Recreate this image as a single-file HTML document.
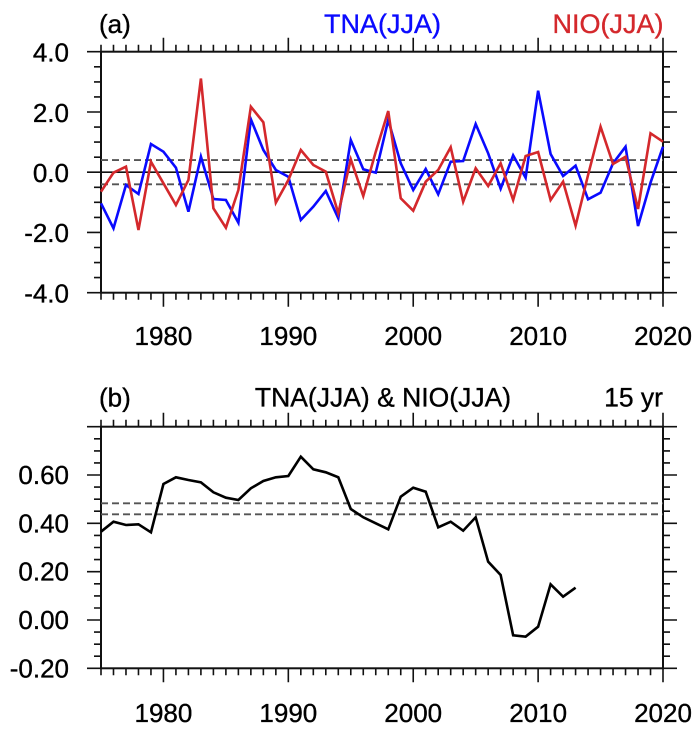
<!DOCTYPE html>
<html>
<head>
<meta charset="utf-8">
<style>
html,body{margin:0;padding:0;background:#fff;}
svg{display:block;}
text{font-family:"Liberation Sans",Arial,sans-serif;fill:#000;stroke:#000;stroke-width:0.35;}
</style>
</head>
<body>
<svg width="700" height="730" viewBox="0 0 700 730" xmlns="http://www.w3.org/2000/svg">
<defs>
<path id="xminor" d="M101 0v7M113.49 0v7M125.98 0v7M138.47 0v7M150.96 0v7M175.93 0v7M188.42 0v7M200.91 0v7M213.4 0v7M225.89 0v7M238.38 0v7M250.87 0v7M263.36 0v7M275.85 0v7M300.82 0v7M313.31 0v7M325.8 0v7M338.29 0v7M350.78 0v7M363.27 0v7M375.76 0v7M388.25 0v7M400.74 0v7M425.71 0v7M438.2 0v7M450.69 0v7M463.18 0v7M475.67 0v7M488.16 0v7M500.65 0v7M513.14 0v7M525.63 0v7M550.6 0v7M563.09 0v7M575.58 0v7M588.07 0v7M600.56 0v7M613.05 0v7M625.54 0v7M638.03 0v7M650.52 0v7"/>
<path id="xmajor" d="M163.44 0v14M288.33 0v14M413.23 0v14M538.12 0v14M663 0v14"/>
</defs>

<!-- ================= Panel (a) ================= -->
<g stroke="#111" stroke-width="1.6" fill="none">
  <use href="#xminor" transform="translate(0,292.7)"/>
  <use href="#xmajor" transform="translate(0,292.7)"/>
  <use href="#xminor" transform="translate(0,51.7) scale(1,-1)"/>
  <use href="#xmajor" transform="translate(0,51.7) scale(1,-1)"/>
  <path d="M101 51.7h-14M101 112h-14M101 172.2h-14M101 232.4h-14M101 292.7h-14
           M101 66.8h-7M101 81.9h-7M101 96.9h-7M101 127.1h-7M101 142.1h-7M101 157.2h-7
           M101 187.3h-7M101 202.3h-7M101 217.4h-7M101 247.5h-7M101 262.6h-7M101 277.6h-7"/>
  <path d="M663 51.7h14M663 112h14M663 172.2h14M663 232.4h14M663 292.7h14
           M663 66.8h7M663 81.9h7M663 96.9h7M663 127.1h7M663 142.1h7M663 157.2h7
           M663 187.3h7M663 202.3h7M663 217.4h7M663 247.5h7M663 262.6h7M663 277.6h7"/>
</g>
<rect x="101" y="51.7" width="562" height="241" fill="none" stroke="#111" stroke-width="2"/>
<line x1="101" y1="172.2" x2="663" y2="172.2" stroke="#111" stroke-width="1.7"/>
<g stroke="#555" stroke-width="1.9" stroke-dasharray="7 4">
  <line x1="101" y1="160.1" x2="663" y2="160.1"/>
  <line x1="101" y1="184.3" x2="663" y2="184.3"/>
</g>

<polyline fill="none" stroke="#0a0aff" stroke-width="2.6" stroke-linejoin="miter" points="
101,203.3 113.49,228.3 125.98,185 138.47,194 150.96,144 163.44,151.7 175.93,167.7 188.42,211.7 200.91,156.7 213.4,199
225.89,200 238.38,222.7 250.87,119.3 263.36,150 275.85,170 288.33,176.7 300.82,220 313.31,206.7 325.8,191 338.29,218.3
350.78,140 363.27,169.3 375.76,172.7 388.25,120 400.74,163.3 413.23,190 425.71,169 438.2,194.3 450.69,161.7 463.18,161
475.67,124 488.16,153.3 500.65,188.7 513.14,155.3 525.63,177.7 538.12,90.7 550.6,154 563.09,176 575.58,165.7 588.07,199.3
600.56,192.7 613.05,163.3 625.54,146.7 638.03,226 650.52,182.7 663,146.7"/>
<polyline fill="none" stroke="#d4282c" stroke-width="2.6" stroke-linejoin="miter" points="
101,191.7 113.49,172.7 125.98,166.7 138.47,230 150.96,161.7 163.44,183.3 175.93,205 188.42,180 200.91,78.5 213.4,208.3
225.89,227.7 238.38,190 250.87,106.7 263.36,122.3 275.85,202.7 288.33,180 300.82,150 313.31,165 325.8,171.7 338.29,213.3
350.78,159.3 363.27,196 375.76,151.7 388.25,111 400.74,198.3 413.23,210.7 425.71,181.7 438.2,170 450.69,147.3 463.18,201.7
475.67,168.3 488.16,186 500.65,163.3 513.14,200 525.63,156 538.12,152 550.6,200 563.09,181.7 575.58,225.7 588.07,175
600.56,126.7 613.05,164 625.54,156.7 638.03,209 650.52,133.3 663,141.7"/>

<g font-size="26" text-anchor="end">
  <text x="69" y="61.5">4.0</text>
  <text x="69" y="121.8">2.0</text>
  <text x="69" y="182">0.0</text>
  <text x="69" y="242.2">-2.0</text>
  <text x="69" y="302.5">-4.0</text>
</g>
<g font-size="26" text-anchor="middle">
  <text x="163.44" y="345">1980</text>
  <text x="288.33" y="345">1990</text>
  <text x="413.23" y="345">2000</text>
  <text x="538.12" y="345">2010</text>
  <text x="663" y="345">2020</text>
</g>
<text x="99" y="33" font-size="26">(a)</text>
<text x="382.5" y="33" font-size="27" text-anchor="middle" style="fill:#0a0aff;stroke:#0a0aff">TNA(JJA)</text>
<text x="663.5" y="33" font-size="27" text-anchor="end" style="fill:#d4282c;stroke:#d4282c">NIO(JJA)</text>

<!-- ================= Panel (b) ================= -->
<g stroke="#111" stroke-width="1.6" fill="none">
  <use href="#xminor" transform="translate(0,668.3)"/>
  <use href="#xmajor" transform="translate(0,668.3)"/>
  <use href="#xminor" transform="translate(0,426.7) scale(1,-1)"/>
  <use href="#xmajor" transform="translate(0,426.7) scale(1,-1)"/>
  <path d="M101 426.7h-14M101 475h-14M101 523.3h-14M101 571.7h-14M101 620h-14M101 668.3h-14
           M101 438.8h-7M101 450.9h-7M101 462.9h-7M101 487.1h-7M101 499.2h-7M101 511.2h-7
           M101 535.4h-7M101 547.5h-7M101 559.6h-7M101 583.8h-7M101 595.9h-7M101 608h-7
           M101 632.1h-7M101 644.2h-7M101 656.2h-7"/>
  <path d="M663 426.7h14M663 475h14M663 523.3h14M663 571.7h14M663 620h14M663 668.3h14
           M663 438.8h7M663 450.9h7M663 462.9h7M663 487.1h7M663 499.2h7M663 511.2h7
           M663 535.4h7M663 547.5h7M663 559.6h7M663 583.8h7M663 595.9h7M663 608h7
           M663 632.1h7M663 644.2h7M663 656.2h7"/>
</g>
<rect x="101" y="426.7" width="562" height="241.6" fill="none" stroke="#111" stroke-width="2"/>
<g stroke="#555" stroke-width="1.9" stroke-dasharray="7 4">
  <line x1="101" y1="503.3" x2="663" y2="503.3"/>
  <line x1="101" y1="514.3" x2="663" y2="514.3"/>
</g>
<polyline fill="none" stroke="#000" stroke-width="2.6" points="
101,531.7 113.49,521.7 125.98,525 138.47,524.3 150.96,532.3 163.44,484 175.93,477.3 188.42,480 200.91,482.3 213.4,492.3
225.89,497.7 238.38,500 250.87,488.3 263.36,481 275.85,477.3 288.33,476 300.82,456.7 313.31,469.3 325.8,472.3 338.29,477.3
350.78,509 363.27,517.3 375.76,523.3 388.25,529.3 400.74,496.7 413.23,487.7 425.71,491.7 438.2,527.3 450.69,521.7 463.18,530.7
475.67,517.3 488.16,561.7 500.65,575 513.14,635.3 525.63,636.7 538.12,626.7 550.6,584.3 563.09,596.7 575.58,587.7"/>

<g font-size="26" text-anchor="end">
  <text x="69" y="484">0.60</text>
  <text x="69" y="532.3">0.40</text>
  <text x="69" y="580.7">0.20</text>
  <text x="69" y="629">0.00</text>
  <text x="69" y="677.3">-0.20</text>
</g>
<g font-size="26" text-anchor="middle">
  <text x="163.44" y="722">1980</text>
  <text x="288.33" y="722">1990</text>
  <text x="413.23" y="722">2000</text>
  <text x="538.12" y="722">2010</text>
  <text x="663" y="722">2020</text>
</g>
<text x="99" y="406.5" font-size="26">(b)</text>
<text x="383" y="406.5" font-size="26.5" text-anchor="middle">TNA(JJA) &amp; NIO(JJA)</text>
<text x="663" y="406.5" font-size="26.5" text-anchor="end">15 yr</text>
</svg>
</body>
</html>
